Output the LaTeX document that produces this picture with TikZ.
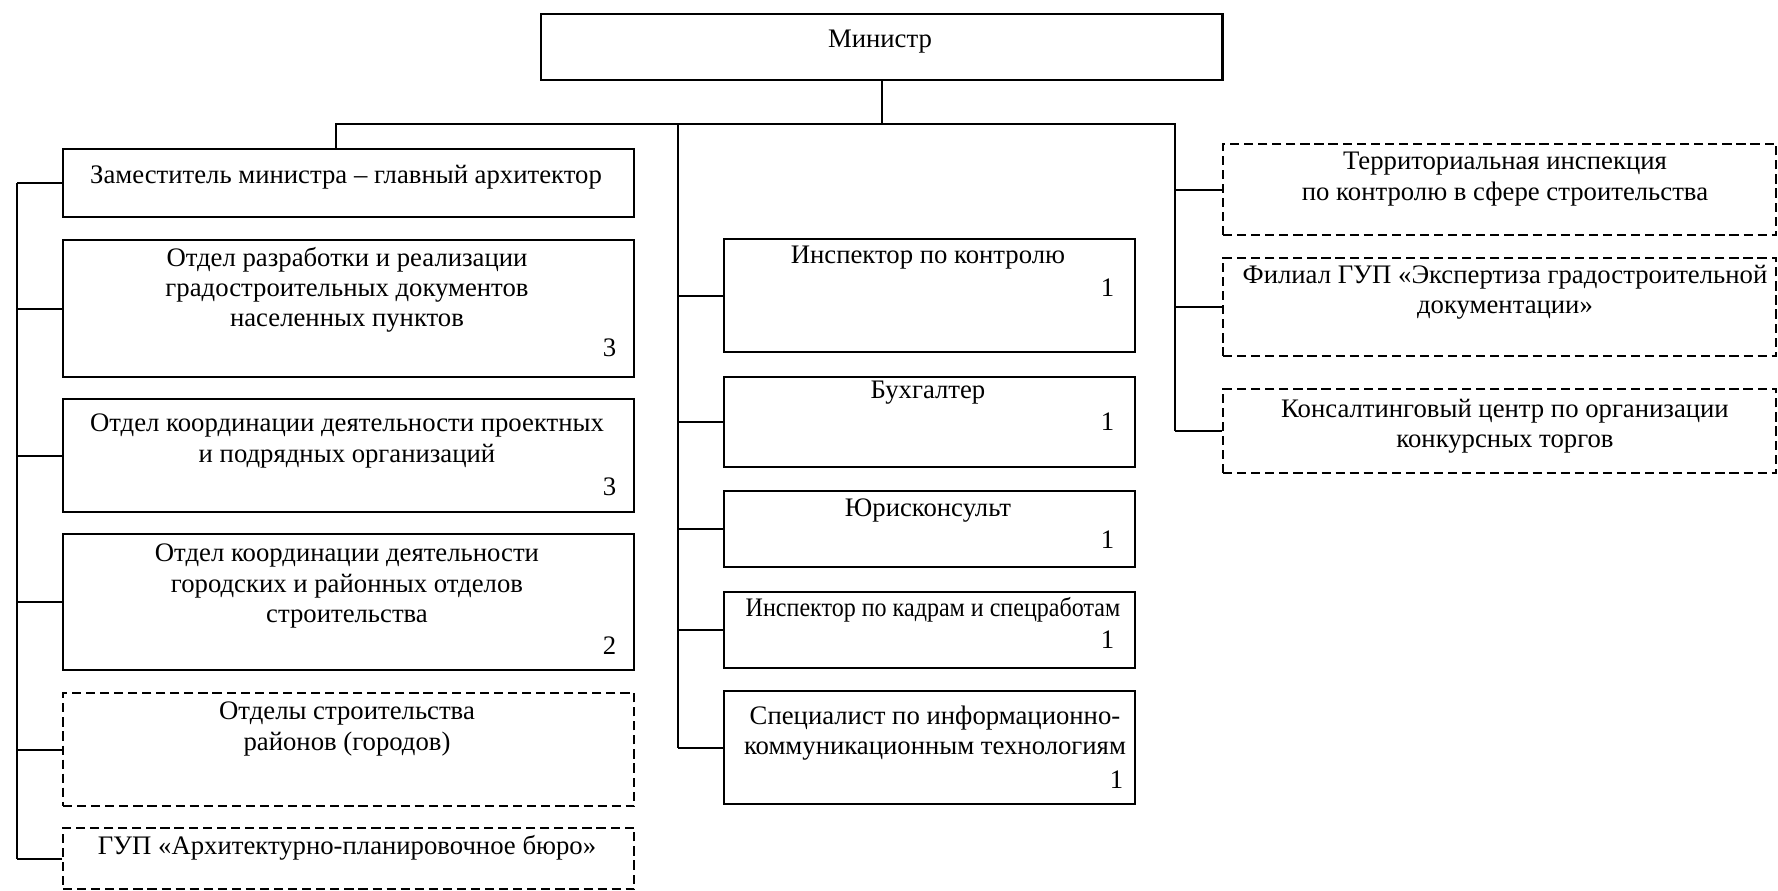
\documentclass[tikz,border=0pt]{standalone}
\usepackage{fontspec}
\setmainfont{Liberation Serif}
\tikzset{
  orgbox/.style={draw, line width=0.6pt, anchor=north west, inner sep=0pt},
  extbox/.style={orgbox, dash pattern=on 2.6pt off 1.4pt},
  boxtext/.style={align=center, inner sep=0pt, font=\fontsize{7.6}{8.6}\selectfont},
  staffno/.style={anchor=east, inner sep=0pt, font=\fontsize{7.6}{8.6}\selectfont},
  conn/.style={line width=0.6pt}
}
\begin{document}
\begin{tikzpicture}[x=0.01cm, y=-0.01cm]
  \useasboundingbox (0,0) rectangle (1778,891);
  %% minister
  \node[orgbox, minimum width=6.81cm, minimum height=0.66cm] (min) at (540,13) {};
  \node[boxtext] (mintxt) at (880,42) {Министр};
  %% left column
  \node[orgbox, minimum width=5.71cm, minimum height=0.68cm] (zam) at (62,148) {};
  \node[boxtext] (zamtxt) at (346,177) {Заместитель министра -- главный архитектор};
  \node[orgbox, minimum width=5.71cm, minimum height=1.37cm] (otd1) at (62,239) {};
  \node[boxtext] (otd1txt) at (347,290) {Отдел разработки и реализации\\градостроительных документов\\населенных пунктов};
  \node[staffno] (otd1no) at (617,348) {3};
  \node[orgbox, minimum width=5.71cm, minimum height=1.13cm] (otd2) at (62,398) {};
  \node[boxtext] (otd2txt) at (347,441) {Отдел координации деятельности проектных\\и подрядных организаций};
  \node[staffno] (otd2no) at (617,487) {3};
  \node[orgbox, minimum width=5.71cm, minimum height=1.36cm] (otd3) at (62,533) {};
  \node[boxtext] (otd3txt) at (347,586) {Отдел координации деятельности\\городских и районных отделов\\строительства};
  \node[staffno] (otd3no) at (617,646) {2};
  \node[extbox, minimum width=5.71cm, minimum height=1.13cm] (stroi) at (62,692) {};
  \node[boxtext] (stroitxt) at (347,729) {Отделы строительства\\районов (городов)};
  \node[extbox, minimum width=5.71cm, minimum height=0.61cm] (gup) at (62,827) {};
  \node[boxtext] (guptxt) at (347,848) {ГУП «Архитектурно-планировочное бюро»};
  %% middle column
  \node[orgbox, minimum width=4.11cm, minimum height=1.13cm] (insp) at (723,238) {};
  \node[boxtext] (insptxt) at (928,258) {Инспектор по контролю};
  \node[staffno] (inspno) at (1115,288) {1};
  \node[orgbox, minimum width=4.11cm, minimum height=0.90cm] (buh) at (723,376) {};
  \node[boxtext] (buhtxt) at (928,393) {Бухгалтер};
  \node[staffno] (buhno) at (1115,422) {1};
  \node[orgbox, minimum width=4.11cm, minimum height=0.76cm] (jur) at (723,490) {};
  \node[boxtext] (jurtxt) at (928,511) {Юрисконсульт};
  \node[staffno] (jurno) at (1115,540) {1};
  \node[orgbox, minimum width=4.11cm, minimum height=0.76cm] (kadr) at (723,591) {};
  \node[boxtext] (kadrtxt) at (933,610) {\scalebox{0.9}[1]{Инспектор по кадрам и спецработам}};
  \node[staffno] (kadrno) at (1115,640) {1};
  \node[orgbox, minimum width=4.11cm, minimum height=1.13cm] (spec) at (723,690) {};
  \node[boxtext] (spectxt) at (935,733) {Специалист по информационно-\\коммуникационным технологиям};
  \node[staffno] (specno) at (1124,780) {1};
  %% right column
  \node[extbox, minimum width=5.53cm, minimum height=0.91cm] (terr) at (1222,143) {};
  \node[boxtext] (terrtxt) at (1505,179) {Территориальная инспекция\\по контролю в сфере строительства};
  \node[extbox, minimum width=5.53cm, minimum height=0.98cm] (fil) at (1222,257) {};
  \node[boxtext] (filtxt) at (1505,292) {Филиал ГУП «Экспертиза градостроительной\\документации»};
  \node[extbox, minimum width=5.53cm, minimum height=0.84cm] (kons) at (1222,388) {};
  \node[boxtext] (konstxt) at (1505,426) {Консалтинговый центр по организации\\конкурсных торгов};
  %% bus lines
  \coordinate (busL) at (336,124);
  \coordinate (busR) at (1175,124);
  \coordinate (mspine) at (678,124);
  \coordinate (lspine) at (17,183);
  \draw[conn] (min.south) -- (min.south |- busL);
  \draw[conn] (busL |- zam.north) -- (busL) -- (busR) -- (busR |- kons.west);
  \draw[conn] (mspine) -- (mspine |- spec.west);
  \draw[conn] (lspine |- zam.west) -- (lspine |- gup.west);
  %% left branches
  \draw[conn] (zam.west) -- (zam.west -| lspine);
  \draw[conn] (otd1.west) -- (otd1.west -| lspine);
  \draw[conn] (otd2.west) -- (otd2.west -| lspine);
  \draw[conn] (otd3.west) -- (otd3.west -| lspine);
  \draw[conn] (stroi.west) -- (stroi.west -| lspine);
  \draw[conn] (gup.west) -- (gup.west -| lspine);
  %% middle branches
  \draw[conn] (insp.west) -- (insp.west -| mspine);
  \draw[conn] (buh.west) -- (buh.west -| mspine);
  \draw[conn] (jur.west) -- (jur.west -| mspine);
  \draw[conn] (kadr.west) -- (kadr.west -| mspine);
  \draw[conn] (spec.west) -- (spec.west -| mspine);
  %% right branches
  \draw[conn] (terr.west) -- (terr.west -| busR);
  \draw[conn] (fil.west) -- (fil.west -| busR);
  \draw[conn] (kons.west) -- (kons.west -| busR);
\end{tikzpicture}
\end{document}
